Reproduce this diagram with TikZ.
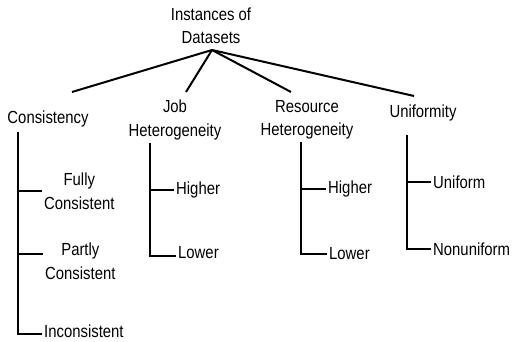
\documentclass[tikz,border=0pt]{standalone}
\usepackage{fontspec}
\setmainfont[FakeStretch=0.85]{Liberation Sans}
\usepackage{tikz}
\usetikzlibrary{positioning,calc}

\begin{document}
\begin{tikzpicture}[
  x=1pt, y=-1pt,
  every node/.style={inner sep=2pt, font=\fontsize{17.5}{23.5}\selectfont},
  cat/.style ={align=center},
  leaf/.style={align=center, anchor=west},
  branch/.style={draw=black, line width=2pt}]

\useasboundingbox (0,0) rectangle (515,342);

% ----------------------------- root -----------------------------------
\node[cat] (root) at (211,26) {Instances of\\Datasets};
\coordinate (apex) at (212,50);

% -------------------------- categories --------------------------------
\node[cat] (cons) at (48,119)  {Consistency};
\node[cat] (job)  at (175,120) {Job\\Heterogeneity};
\node[cat] (res)  at (307,120) {Resource\\Heterogeneity};
\node[cat] (unif) at (423,113) {Uniformity};

% free ends of the connectors from the root
\coordinate (consEnd) at (72,92);
\coordinate (jobEnd)  at (186,92);
\coordinate (resEnd)  at (291,92);
\coordinate (unifEnd) at (414,96);

\foreach \e in {consEnd,jobEnd,resEnd,unifEnd}{\draw[branch] (apex) -- (\e);}

% ---------------------------- leaves ----------------------------------
\node[leaf] (fully)  at (42,191)  {Fully\\Consistent};
\node[leaf] (partly) at (43,261)  {Partly\\Consistent};
\node[leaf] (incons) at (42,331)  {Inconsistent};

\node[leaf] (jobHi)  at (174,190) {Higher};
\node[leaf] (jobLo)  at (176,253) {Lower};

\node[leaf] (resHi)  at (326,189) {Higher};
\node[leaf] (resLo)  at (327,254) {Lower};

\node[leaf] (uni)    at (431,182) {Uniform};
\node[leaf] (nonuni) at (431,249) {Nonuniform};

% ---------------------------- trunks ----------------------------------
\coordinate (consTop) at (18,132);
\coordinate (jobTop)  at (150,143);
\coordinate (resTop)  at (301,142);
\coordinate (unifTop) at (407,135);

\draw[branch] (consTop) |- (fully.west);
\draw[branch] (consTop) |- ([yshift=7pt]partly.west);
\draw[branch] (consTop) |- ([yshift=-3pt]incons.west);

\draw[branch] (jobTop) |- (jobHi.west);
\draw[branch] (jobTop) |- ([yshift=-3pt]jobLo.west);

\draw[branch] (resTop) |- (resHi.west);
\draw[branch] (resTop) |- (resLo.west);

\draw[branch] (unifTop) |- (uni.west);
\draw[branch] (unifTop) |- (nonuni.west);

\end{tikzpicture}
\end{document}
